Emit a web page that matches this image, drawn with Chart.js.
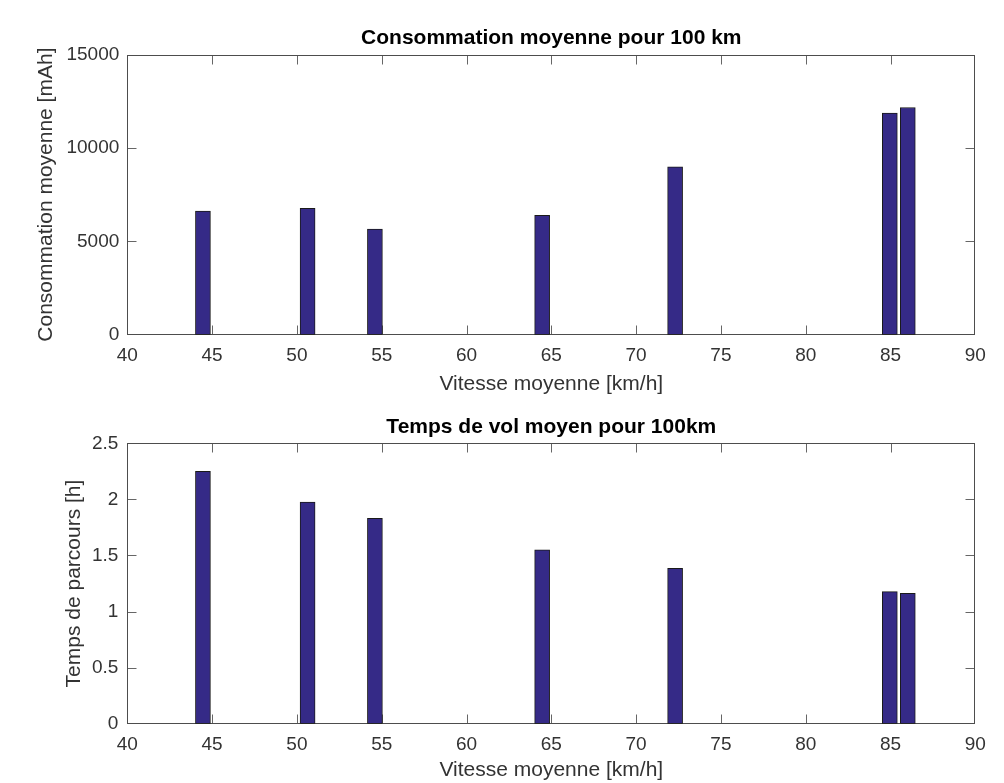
<!DOCTYPE html>
<html>
<head>
<meta charset="utf-8">
<script src="https://cdn.jsdelivr.net/npm/chart.js@4.4.1/dist/chart.umd.min.js"></script>
<style>
  html, body { margin: 0; padding: 0; background: #fff; }
  #wrap { position: relative; width: 1004px; height: 783px; overflow: hidden; }
  canvas { position: absolute; left: 0; }
  #c1 { top: 0; }
  #c2 { top: 400px; }
</style>
</head>
<body>
<div id="wrap">
  <canvas id="c1" width="1004" height="400"></canvas>
  <canvas id="c2" width="1004" height="383"></canvas>
</div>
<script>
// ---- data ----
const speeds = [44.46, 50.63, 54.6, 64.46, 72.3, 84.96, 86.02];
const consumption = [6620, 6760, 5655, 6385, 8990, 11860, 12165];
const flightTime = [2.25, 1.977, 1.831, 1.551, 1.385, 1.177, 1.163];

const xTickMin = 40, xTickMax = 90, xTickStep = 5;
const y1Ticks = [0, 5000, 10000, 15000];
const y2Ticks = [0, 0.5, 1, 1.5, 2, 2.5];

const title1 = 'Consommation moyenne pour 100 km';
const title2 = 'Temps de vol moyen pour 100km';
const xLabel = 'Vitesse moyenne [km/h]';
const y1Label = 'Consommation moyenne [mAh]';
const y2Label = 'Temps de parcours [h]';

// ---- styling ----
const FONT = '"Liberation Sans", Arial, Helvetica, sans-serif';
const BAR_FILL = '#352a87';
const BAR_EDGE = '#1a1a1a';

const framePlugin = {
  id: 'frame',
  beforeDatasetsDraw(chart) {
    const {ctx, chartArea: a, scales: {x, y}} = chart;
    const L = Math.round(a.left) + 0.5, R = Math.round(a.right) - 0.5;
    const T = Math.round(a.top) + 0.5, B = Math.round(a.bottom) - 0.5;
    const tl = 9;
    ctx.save();
    ctx.lineWidth = 1;
    ctx.strokeStyle = '#666';
    ctx.beginPath();
    x.ticks.forEach(t => {
      const px = Math.round(x.getPixelForValue(t.value)) + 0.5;
      if (px <= L + 1 || px >= R - 1) return;
      ctx.moveTo(px, B); ctx.lineTo(px, B - tl);
      ctx.moveTo(px, T); ctx.lineTo(px, T + tl);
    });
    y.ticks.forEach(t => {
      const py = Math.round(y.getPixelForValue(t.value)) + 0.5;
      if (py <= T + 1 || py >= B - 1) return;
      ctx.moveTo(L, py); ctx.lineTo(L + tl, py);
      ctx.moveTo(R, py); ctx.lineTo(R - tl, py);
    });
    ctx.stroke();
    ctx.strokeStyle = '#4d4d4d';
    ctx.strokeRect(L, T, R - L, B - T);
    ctx.restore();
  }
};

function makeChart(id, values, yTicks, titleText, yLabel, cfg) {
  const pts = speeds.map((s, i) => ({x: s, y: values[i]}));
  return new Chart(document.getElementById(id), {
    type: 'bar',
    data: {
      datasets: [{
        data: pts,
        backgroundColor: BAR_FILL,
        borderColor: BAR_EDGE,
        borderWidth: 1,
        borderSkipped: false,
        barThickness: 15
      }]
    },
    plugins: [framePlugin],
    options: {
      responsive: false,
      animation: false,
      devicePixelRatio: 1,
      layout: { padding: { left: 0, right: 28.7, top: 0, bottom: 0 } },
      plugins: {
        legend: { display: false },
        tooltip: { enabled: false },
        title: {
          display: true,
          text: titleText,
          fullSize: false,
          color: '#000',
          font: { family: FONT, size: 21, weight: 'bold', lineHeight: 1.2 },
          padding: { top: cfg.titleTop, bottom: cfg.titleBottom }
        }
      },
      scales: {
        x: {
          type: 'linear',
          offset: false,
          min: xTickMin,
          max: xTickMax,
          grid: { display: false, drawTicks: false },
          border: { display: false },
          ticks: {
            stepSize: xTickStep,
            padding: 10,
            color: '#333',
            font: { family: FONT, size: 19 },
            maxRotation: 0,
            autoSkip: false,
            callback: v => String(v)
          },
          title: {
            display: true,
            text: xLabel,
            color: '#333',
            font: { family: FONT, size: 21, lineHeight: 1.2 },
            padding: { top: 0, bottom: cfg.xTitleBottom }
          },
          afterFit: s => { s.height = cfg.xHeight; }
        },
        y: {
          type: 'linear',
          min: yTicks[0],
          max: yTicks[yTicks.length - 1],
          grid: { display: false, drawTicks: false },
          border: { display: false },
          afterBuildTicks: s => { s.ticks = yTicks.map(v => ({value: v})); },
          ticks: {
            padding: cfg.yPad,
            color: '#333',
            font: { family: FONT, size: 19 },
            callback: v => String(v)
          },
          title: {
            display: true,
            text: yLabel,
            color: '#333',
            font: { family: FONT, size: 21, lineHeight: 1.2 },
            padding: { top: cfg.yTitleTop, bottom: 0 }
          },
          afterFit: s => { s.width = 127.3; }
        }
      }
    }
  });
}

makeChart('c1', consumption, y1Ticks, title1, y1Label, {
  titleTop: 26.1, titleBottom: 3.2, xHeight: 65.3, xTitleBottom: 3, yPad: 8, yTitleTop: 33.4
});
makeChart('c2', flightTime, y2Ticks, title2, y2Label, {
  titleTop: 15.1, titleBottom: 3.0, xHeight: 59.3, xTitleBottom: 0, yPad: 9, yTitleTop: 61.8
});
</script>
</body>
</html>
